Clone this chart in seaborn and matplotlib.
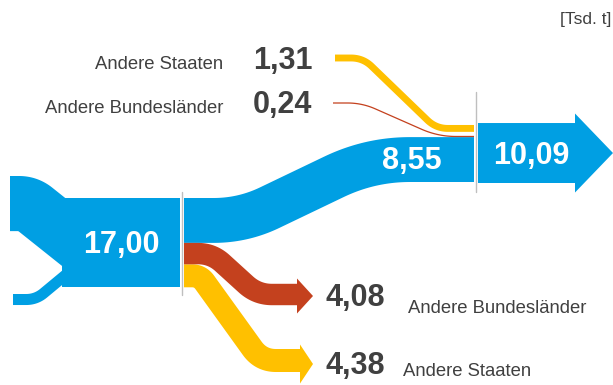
import numpy as np
import pandas as pd
import matplotlib
matplotlib.use("Agg")
import matplotlib.pyplot as plt
from matplotlib.patches import Polygon, Rectangle
import seaborn as sns

# --- values [Tsd. t] ---
total_in = 17.00
inflow_parts = [10.5, 2.1]                # two unlabeled feeds into the total
out_labels = ["Andere Bundesländer", "Andere Staaten"]
out_values = [4.08, 4.38]
stay_value = 8.55
in_labels = ["Andere Staaten", "Andere Bundesländer"]
in_values = [1.31, 0.24]
total_out = 10.09
unit_label = "[Tsd. t]"

BLUE = "#009FE3"
YELLOW = "#FFC000"
RED = "#C4411E"
GREY_LINE = "#BFBFBF"
TEXT = "#404040"

sns.set_theme(style="white")
plt.rcParams["font.family"] = ["Liberation Sans", "DejaVu Sans"]

W, H = 613, 385
fig = plt.figure(figsize=(W / 100, H / 100), dpi=100)
ax = fig.add_axes([0, 0, 1, 1])
ax.set_xlim(0, W)
ax.set_ylim(H, 0)
ax.axis("off")

S = 5.25          # pixels per Tsd. t
PX2PT = 0.72      # stroke widths are given in pixels


def rounded(points, radius, n=30):
    """Polyline with its inner corners rounded by quadratic Bezier arcs."""
    pts = np.asarray(points, float)
    out = [pts[0]]
    for i in range(1, len(pts) - 1):
        p0, p1, p2 = pts[i - 1], pts[i], pts[i + 1]
        d0, d1 = p1 - p0, p2 - p1
        l0, l1 = np.hypot(*d0), np.hypot(*d1)
        r = min(radius, l0 / 2, l1 / 2)
        a = p1 - d0 / l0 * r
        b = p1 + d1 / l1 * r
        t = np.linspace(0, 1, n)[:, None]
        out.extend((1 - t) ** 2 * a + 2 * (1 - t) * t * p1 + t ** 2 * b)
    out.append(pts[-1])
    return np.array(out)


def flow(points, value, color, radius):
    xy = rounded(points, radius)
    df = pd.DataFrame({"x": xy[:, 0], "y": xy[:, 1]})
    sns.lineplot(data=df, x="x", y="y", sort=False, estimator=None, ax=ax,
                 color=color, linewidth=value * S * PX2PT,
                 solid_capstyle="butt", solid_joinstyle="round")


# --- left block: total and its feeds ---
x_split = 182
blk_top = 198
blk_h = total_in * S
flow([(10, 176 + inflow_parts[0] * S / 2), (28, 176 + inflow_parts[0] * S / 2), (90, 253)],
     inflow_parts[0], BLUE, 12)
flow([(13, 294 + inflow_parts[1] * S / 2), (36, 294 + inflow_parts[1] * S / 2), (80, 263)],
     inflow_parts[1], BLUE, 10)
ax.add_patch(Rectangle((62, blk_top), x_split - 2 - 62, blk_h, color=BLUE, lw=0))

# --- outgoing flows, stacked at the split ---
x0 = x_split + 2
c_stay = blk_top + stay_value * S / 2
c_red = blk_top + stay_value * S + out_values[0] * S / 2
c_yel = blk_top + (stay_value + out_values[0]) * S + out_values[1] * S / 2

x_join = 475
blue_bottom_r = 182
c_stay_r = blue_bottom_r - stay_value * S / 2

flow([(x0, c_stay), (243, c_stay), (370, c_stay_r), (x_join - 1, c_stay_r)],
     stay_value, BLUE, 40)

red_end_y, yel_end_y = 294.5, 360.5
flow([(x0, c_yel), (200, c_yel), (261, yel_end_y), (301, yel_end_y)],
     out_values[1], YELLOW, 15)
flow([(x0, c_red), (212, c_red), (257, red_end_y), (298, red_end_y)],
     out_values[0], RED, 15)

# arrow heads of the outgoing flows
for base, tip, cy, half, col in [(297, 313, 296, 17.5, RED), (300, 313, 364, 19.5, YELLOW)]:
    ax.add_patch(Polygon([(base, cy - half), (tip, cy), (base, cy + half)],
                         closed=True, color=col, lw=0))

# --- incoming flows, stacked on top of the remaining stream ---
red_top_r = blue_bottom_r - stay_value * S
c_in_red = red_top_r - in_values[1] * S / 2
gap = 4
c_in_yel = red_top_r - in_values[1] * S - gap - in_values[0] * S / 2
flow([(335, 58), (363, 58), (436, c_in_yel), (x_join - 1, c_in_yel)],
     in_values[0], YELLOW, 12)
flow([(333, 103), (362, 103), (438, c_in_red), (x_join - 1, c_in_red)],
     in_values[1], RED, 30)

# --- result arrow ---
pad = 3.5
arr_bot = blue_bottom_r + 1
arr_top = arr_bot - total_out * S - 2 * pad
arr_cy = (arr_top + arr_bot) / 2
ax.add_patch(Polygon([(478, arr_top), (575, arr_top), (575, arr_cy - 39.5), (613, arr_cy),
                      (575, arr_cy + 39.5), (575, arr_bot), (478, arr_bot)],
                     closed=True, color=BLUE, lw=0))

# node separators
ax.plot([x_split, x_split], [192, 295], color=GREY_LINE, lw=1.0)
ax.plot([x_join + 1, x_join + 1], [92, 192], color=GREY_LINE, lw=1.0)


def fmt(v):
    return f"{v:.2f}".replace(".", ",")


NUM = dict(fontsize=22, fontweight="bold", va="baseline")
LAB = dict(fontsize=13.3, color=TEXT, va="baseline")

ax.text(121, 253, fmt(total_in), color="white", ha="center", **NUM)
ax.text(412, 169, fmt(stay_value), color="white", ha="center", **NUM)
ax.text(531, 164, fmt(total_out), color="white", ha="center", **NUM)

# incoming labels
for lab, val, base in zip(in_labels, in_values, [69, 113]):
    ax.text(223, base, lab, ha="right", **LAB)
    ax.text(253, base, fmt(val), color=TEXT, ha="left", **NUM)

# outgoing labels
ax.text(326, 306, fmt(out_values[0]), color=TEXT, ha="left", **NUM)
ax.text(408, 313, out_labels[0], ha="left", **LAB)
ax.text(326, 374, fmt(out_values[1]), color=TEXT, ha="left", **NUM)
ax.text(403, 376, out_labels[1], ha="left", **LAB)

ax.text(611, 24, unit_label, ha="right", fontsize=12.5, color=TEXT, va="baseline")

fig.savefig("out.png", dpi=100)
